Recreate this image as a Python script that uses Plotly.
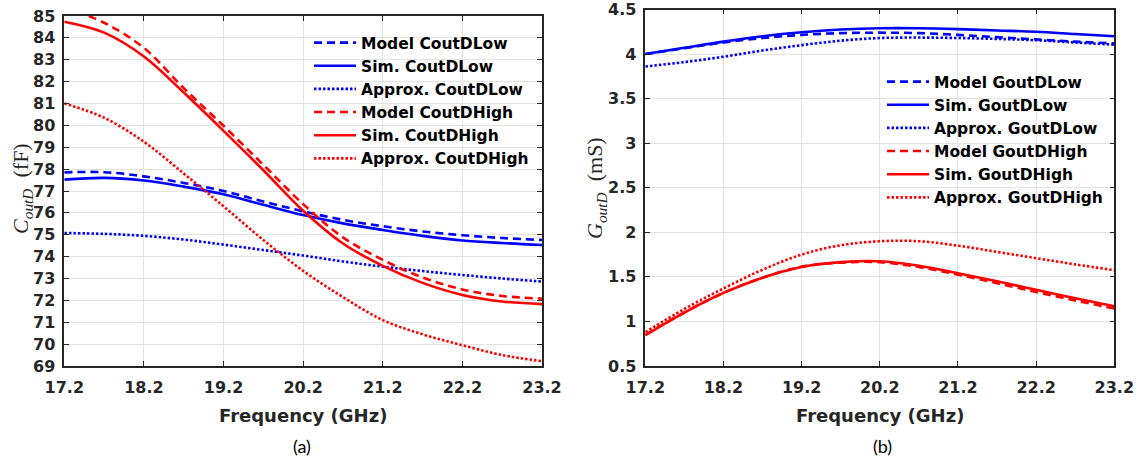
import plotly.graph_objects as go

# ---------------- data ----------------
freq = [17.2, 17.7, 18.2, 18.7, 19.2, 19.7, 20.2, 20.7, 21.2, 21.7, 22.2, 22.7, 23.2]
x_tickvals = [17.2, 18.2, 19.2, 20.2, 21.2, 22.2, 23.2]
x_ticktext = ["17.2", "18.2", "19.2", "20.2", "21.2", "22.2", "23.2"]

# (a) C_outD (fF)
c_model_low = [77.85, 77.86, 77.67, 77.37, 77.00, 76.52, 76.07, 75.68, 75.39, 75.15, 74.98, 74.85, 74.76]
c_sim_low = [77.52, 77.60, 77.48, 77.20, 76.85, 76.37, 75.90, 75.52, 75.22, 74.95, 74.74, 74.62, 74.53]
c_approx_low = [75.08, 75.04, 74.95, 74.78, 74.55, 74.30, 74.05, 73.78, 73.54, 73.34, 73.16, 73.00, 72.86]
c_model_high = [85.40, 84.69, 83.54, 81.70, 79.98, 78.20, 76.40, 74.88, 73.85, 73.05, 72.50, 72.20, 72.08]
c_sim_high = [84.74, 84.24, 83.15, 81.50, 79.75, 77.95, 76.10, 74.60, 73.58, 72.80, 72.25, 71.95, 71.83]
c_approx_high = [81.00, 80.35, 79.25, 77.80, 76.30, 74.76, 73.35, 72.15, 71.10, 70.45, 69.95, 69.50, 69.22]
c_yticks = list(range(69, 86))

# (b) G_outD (mS)
g_model_low = [4.00, 4.065, 4.13, 4.18, 4.215, 4.235, 4.24, 4.235, 4.215, 4.19, 4.165, 4.14, 4.12]
g_sim_low = [4.00, 4.07, 4.14, 4.20, 4.245, 4.275, 4.29, 4.29, 4.28, 4.265, 4.25, 4.225, 4.20]
g_approx_low = [3.86, 3.91, 3.97, 4.04, 4.10, 4.15, 4.18, 4.185, 4.18, 4.17, 4.155, 4.13, 4.105]
g_model_high = [0.85, 1.10, 1.32, 1.49, 1.615, 1.66, 1.665, 1.61, 1.525, 1.43, 1.33, 1.235, 1.145]
g_sim_high = [0.845, 1.10, 1.32, 1.49, 1.61, 1.665, 1.675, 1.625, 1.54, 1.45, 1.355, 1.26, 1.17]
g_approx_high = [0.88, 1.14, 1.37, 1.58, 1.75, 1.855, 1.90, 1.90, 1.85, 1.78, 1.71, 1.64, 1.575]
g_yticks = [0.5, 1, 1.5, 2, 2.5, 3, 3.5, 4, 4.5]
g_yticktext = ["0.5", "1", "1.5", "2", "2.5", "3", "3.5", "4", "4.5"]

names_a = ["Model CoutDLow", "Sim. CoutDLow", "Approx. CoutDLow",
           "Model CoutDHigh", "Sim. CoutDHigh", "Approx. CoutDHigh"]
names_b = ["Model GoutDLow", "Sim. GoutDLow", "Approx. GoutDLow",
           "Model GoutDHigh", "Sim. GoutDHigh", "Approx. GoutDHigh"]

# ---------------- styling ----------------
W, H = 1140, 461
BLUE, RED = "#0000ff", "#ff0000"
DASH, DOT = "8px,5px", "2.5px,2px"
styles = [(BLUE, DASH), (BLUE, "solid"), (BLUE, DOT), (RED, DASH), (RED, "solid"), (RED, DOT)]
LW = 2.6
TICK_FONT = dict(family="DejaVu Sans", size=16, color="#262626", weight="bold")
LEG_FONT = dict(family="DejaVu Sans", size=15.5, color="#000000", weight="bold")
AX = "#262626"
GRID = "#e3e3e3"

fig = go.Figure()
series_a = [c_model_low, c_sim_low, c_approx_low, c_model_high, c_sim_high, c_approx_high]
series_b = [g_model_low, g_sim_low, g_approx_low, g_model_high, g_sim_high, g_approx_high]

for ys, nm, (col, ds) in zip(series_a, names_a, styles):
    fig.add_trace(go.Scatter(x=freq, y=ys, name=nm, mode="lines",
                             line=dict(color=col, dash=ds, width=LW, shape="spline", smoothing=1.0),
                             xaxis="x", yaxis="y", legend="legend"))
for ys, nm, (col, ds) in zip(series_b, names_b, styles):
    fig.add_trace(go.Scatter(x=freq, y=ys, name=nm, mode="lines",
                             line=dict(color=col, dash=ds, width=LW, shape="spline", smoothing=1.0),
                             xaxis="x2", yaxis="y2", legend="legend2"))

def px_x(p):
    return p / W

def px_y(p):
    return 1 - p / H

# plot-area pixel boxes
A_L, A_R, A_T, A_B = 64.3, 542.0, 16.0, 366.0
B_L, B_R, B_T, B_B = 645.3, 1114.3, 9.5, 366.0

common_x = dict(range=[17.2, 23.2], tickvals=x_tickvals, ticktext=x_ticktext,
                showgrid=True, gridcolor=GRID, gridwidth=1,
                showline=True, linecolor=AX, linewidth=1.5, mirror="ticks",
                ticks="inside", ticklen=5, tickcolor=AX, tickwidth=1,
                tickfont=TICK_FONT, zeroline=False, automargin=False,
                ticklabelstandoff=6)
common_y = dict(showgrid=True, gridcolor=GRID, gridwidth=1,
                showline=True, linecolor=AX, linewidth=1.5, mirror="ticks",
                ticks="inside", ticklen=5, tickcolor=AX, tickwidth=1,
                tickfont=TICK_FONT, zeroline=False, automargin=False,
                ticklabelstandoff=4)

fig.update_layout(
    width=W, height=H,
    margin=dict(l=0, r=0, t=0, b=0, pad=0),
    paper_bgcolor="white", plot_bgcolor="white",
    xaxis=dict(domain=[px_x(A_L), px_x(A_R)], anchor="y", **common_x),
    yaxis=dict(domain=[px_y(A_B), px_y(A_T)], anchor="x", range=[69, 85],
               tickvals=c_yticks, ticktext=[str(v) for v in c_yticks], **common_y),
    xaxis2=dict(domain=[px_x(B_L), px_x(B_R)], anchor="y2", **common_x),
    yaxis2=dict(domain=[px_y(B_B), px_y(B_T)], anchor="x2", range=[0.5, 4.5],
                tickvals=g_yticks, ticktext=g_yticktext, **common_y),
    legend=dict(x=px_x(309), y=px_y(26), xanchor="left", yanchor="top",
                bgcolor="rgba(0,0,0,0)", borderwidth=0, font=LEG_FONT,
                itemwidth=42, tracegroupgap=0),
    legend2=dict(x=px_x(882), y=px_y(65), xanchor="left", yanchor="top",
                 bgcolor="rgba(0,0,0,0)", borderwidth=0, font=LEG_FONT,
                 itemwidth=42, tracegroupgap=0),
    showlegend=True,
)

XT_FONT = dict(family="DejaVu Sans", size=18, color="#262626", weight="bold")
CAP_FONT = dict(family="Lato, Open Sans", size=18, color="#000000")
YT_FONT = dict(family="Liberation Serif", size=22, color="#262626")

annots = [
    dict(text="Frequency (GHz)", x=px_x((A_L + A_R) / 2), y=px_y(415), font=XT_FONT),
    dict(text="Frequency (GHz)", x=px_x((B_L + B_R) / 2), y=px_y(415), font=XT_FONT),
    dict(text="(a)", x=px_x(302), y=px_y(446), font=CAP_FONT),
    dict(text="(b)", x=px_x(882), y=px_y(446), font=CAP_FONT),
    dict(text="<i>C</i><sub><i>outD</i></sub>  (fF)", x=px_x(22), y=px_y(189),
         font=YT_FONT, textangle=-90),
    dict(text="<i>G</i><sub><i>outD</i></sub>  (mS)", x=px_x(596), y=px_y(188),
         font=YT_FONT, textangle=-90),
]
for a in annots:
    fig.add_annotation(xref="paper", yref="paper", xanchor="center", yanchor="middle",
                       showarrow=False, **a)

fig.write_html("out.html", config={"displayModeBar": False},
               post_script="document.body.style.margin='0';document.body.style.overflow='hidden';")
